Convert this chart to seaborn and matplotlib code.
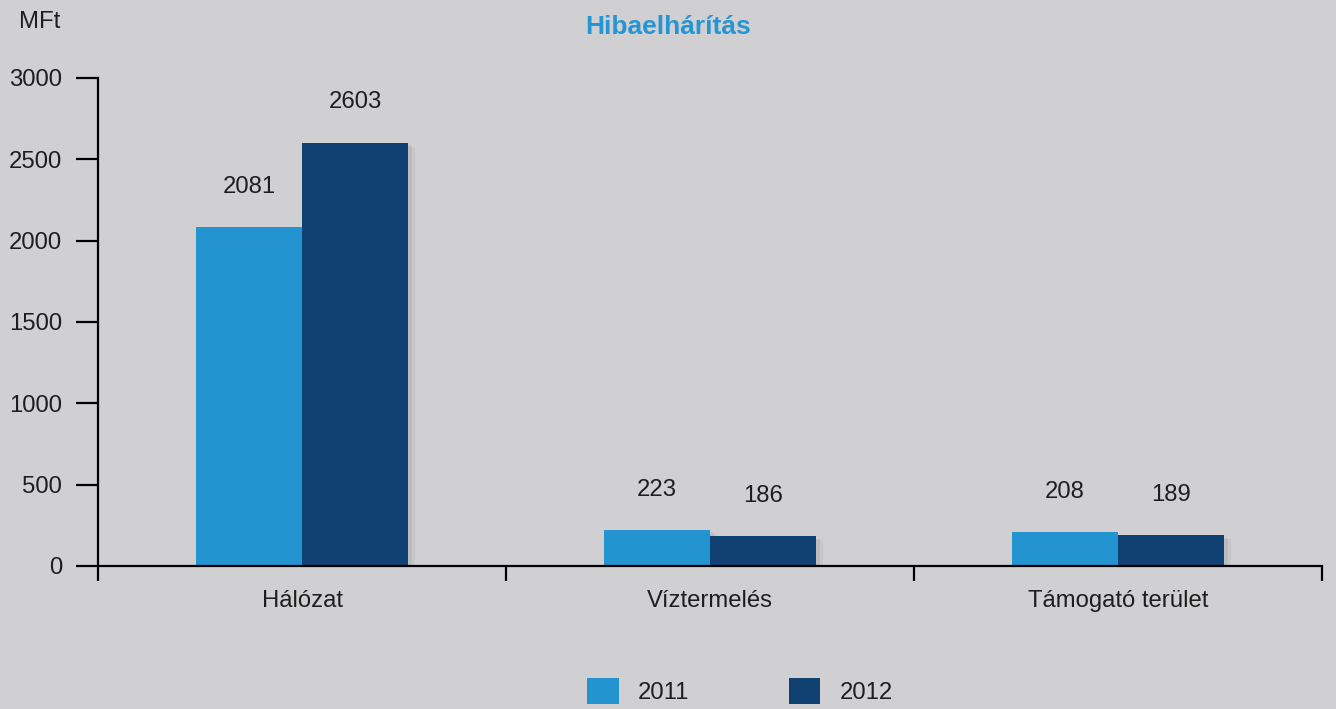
import matplotlib
matplotlib.use("Agg")
import matplotlib.pyplot as plt
import matplotlib.patheffects as pe
import seaborn as sns
import pandas as pd
from matplotlib.patches import Patch

categories = ["Hálózat", "Víztermelés", "Támogató terület"]
years = ["2011", "2012"]
values_2011 = [2081, 223, 208]
values_2012 = [2603, 186, 189]
yticks = [0, 500, 1000, 1500, 2000, 2500, 3000]

title = "Hibaelhárítás"
unit = "MFt"

bg = "#d0d0d2"
c2011 = "#2394d0"
c2012 = "#114173"
txt = "#1e1e1e"
fs = 17.2

df = pd.DataFrame({
    "cat": categories * 2,
    "year": [years[0]] * len(categories) + [years[1]] * len(categories),
    "val": values_2011 + values_2012,
})

sns.set_theme(style="white")
plt.rcParams["font.family"] = ["Liberation Sans", "DejaVu Sans"]

fig = plt.figure(figsize=(13.36, 7.09), dpi=100, facecolor=bg)
ax = fig.add_axes([0.0734, 0.2017, 0.9161, 0.6883])
ax.set_facecolor(bg)

sns.barplot(data=df, x="cat", y="val", hue="year", order=categories,
            hue_order=years, palette=[c2011, c2012], width=0.52,
            saturation=1, ax=ax, legend=False, linewidth=0, gap=0)

shadow = [pe.SimplePatchShadow(offset=(5, -3), shadow_rgbFace="black", alpha=0.04),
          pe.SimplePatchShadow(offset=(3, -2), shadow_rgbFace="black", alpha=0.05),
          pe.Normal()]
for p in ax.patches:
    p.set_path_effects(shadow)

for cont in ax.containers:
    ax.bar_label(cont, labels=[f"{int(v)}" for v in cont.datavalues],
                 padding=21, fontsize=fs, color=txt)

ax.set_ylim(0, 3000)
ax.set_xlim(-0.5, len(categories) - 0.5)
ax.set_yticks(yticks)
ax.set_yticklabels([str(t) for t in yticks], fontsize=fs, color=txt)
ax.tick_params(axis="y", direction="out", length=16, width=1.6, color="black",
               pad=10, left=True)

# boundaries as major ticks, labels on minor ticks
ax.set_xticks([i - 0.5 for i in range(len(categories) + 1)])
ax.set_xticklabels([""] * (len(categories) + 1))
ax.set_xticks(range(len(categories)), minor=True)
ax.set_xticklabels(categories, minor=True, fontsize=fs, color=txt)
ax.tick_params(axis="x", which="major", direction="out", length=10.5, width=1.6,
               color="black", bottom=True)
ax.tick_params(axis="x", which="minor", length=0, pad=17, bottom=True)
ax.set_xlabel("")
ax.set_ylabel("")

for s in ["top", "right"]:
    ax.spines[s].set_visible(False)
for s in ["left", "bottom"]:
    ax.spines[s].set_color("black")
    ax.spines[s].set_linewidth(1.6)

fig.text(0.5, 0.962, title, ha="center", va="center", fontsize=19,
         fontweight="bold", color="#2596d4")
fig.text(0.03, 0.969, unit, ha="center", va="center", fontsize=fs, color=txt)

handles = [Patch(facecolor=c2011, edgecolor="none"),
           Patch(facecolor=c2012, edgecolor="none")]
fig.legend(handles, years, loc="center", bbox_to_anchor=(0.554, 0.0254),
           ncol=2, frameon=False, fontsize=fs, handlelength=1.3,
           handleheight=1.3, handletextpad=0.8, columnspacing=4.2,
           labelcolor=txt)

fig.savefig("out.png", dpi=100, facecolor=bg)
